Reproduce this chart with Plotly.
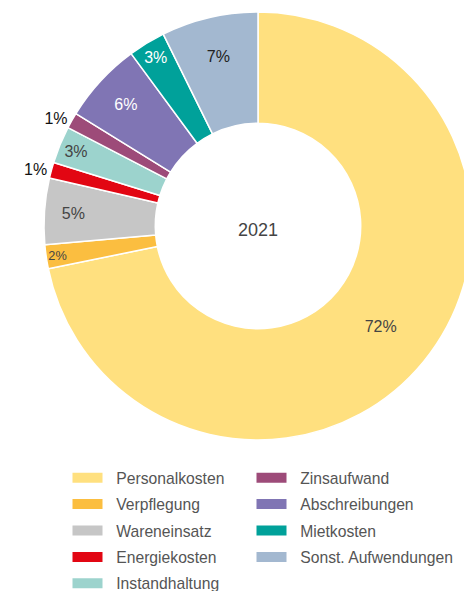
import plotly.graph_objects as go

categories = ["Personalkosten", "Verpflegung", "Wareneinsatz", "Energiekosten",
              "Instandhaltung", "Zinsaufwand", "Abschreibungen", "Mietkosten",
              "Sonst. Aufwendungen"]
values = [71.8, 1.8, 5.0, 1.2, 2.8, 1.2, 6.1, 2.8, 7.3]
colors = ["#FFE07F", "#FBBE40", "#C6C6C6", "#E20613", "#9CD3CD",
          "#9D4B79", "#8075B4", "#00A19A", "#A3B8D0"]
text_colors = ["#444444", "#444444", "#444444", "#111111", "#444444",
               "#111111", "#FFFFFF", "#FFFFFF", "#222222"]
text_positions = ["inside", "inside", "inside", "outside", "inside",
                  "outside", "inside", "inside", "inside"]
center_label = "2021"

FONT = "Liberation Sans, Arial, Helvetica, sans-serif"
W, H = 472, 591
OFF = 8  # page body margin
cx, cy, R = 258 - OFF, 226 - OFF, 214

fig = go.Figure()
fig.add_trace(go.Pie(
    labels=categories, values=values,
    sort=False, direction="clockwise", rotation=0,
    hole=0.48,
    marker=dict(colors=colors, line=dict(color="white", width=1.5)),
    texttemplate="%{percent:.0%}",
    textposition=text_positions,
    insidetextorientation="horizontal",
    textfont=dict(family=FONT, size=16, color=text_colors),
    showlegend=False,
    domain=dict(x=[(cx - R) / W, (cx + R) / W], y=[1 - (cy + R) / H, 1 - (cy - R) / H]),
))

# legend entries (two columns)
for i, (name, col) in enumerate(zip(categories, colors)):
    fig.add_trace(go.Scatter(
        x=[None], y=[None], mode="lines", name="\u00a0\u00a0" + name,
        line=dict(color=col, width=12),
        legend="legend" if i < 5 else "legend2",
        legendgroup=name, hoverinfo="skip",
    ))

fig.add_annotation(text=center_label, x=cx / W, y=1 - (cy + 4) / H,
                   xref="paper", yref="paper", showarrow=False,
                   font=dict(family=FONT, size=18, color="#444444"))

leg_common = dict(font=dict(family=FONT, size=15.7, color="#555555"),
                  bgcolor="rgba(0,0,0,0)", borderwidth=0,
                  traceorder="grouped", tracegroupgap=3,
                  xanchor="left", yanchor="top", orientation="v")
fig.update_layout(
    width=W, height=H,
    margin=dict(l=0, r=0, t=0, b=0, autoexpand=False),
    paper_bgcolor="white", plot_bgcolor="white",
    font=dict(family=FONT),
    xaxis=dict(visible=False), yaxis=dict(visible=False),
    legend=dict(x=59.5 / W, y=1 - 453 / H, **leg_common),
    legend2=dict(x=243.5 / W, y=1 - 453 / H, **leg_common),
)
fig.write_html("out.html")
